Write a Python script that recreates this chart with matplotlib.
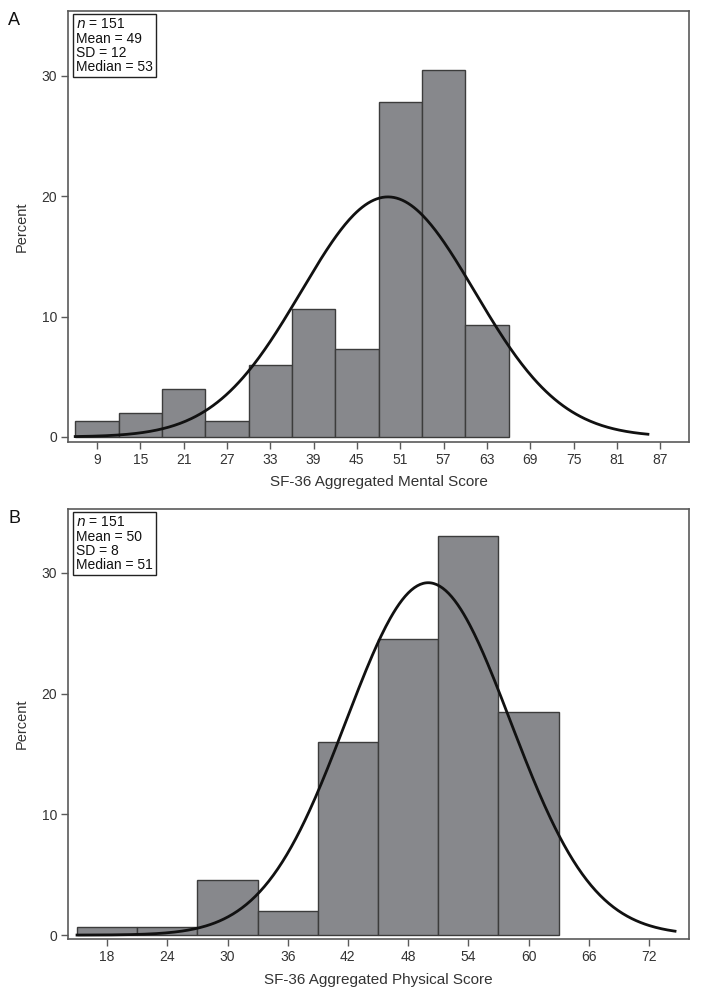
import numpy as np
import matplotlib
matplotlib.use("Agg")
import matplotlib.pyplot as plt

plt.rcParams['font.family'] = ['Liberation Sans', 'DejaVu Sans']

# Panel A: mental score
mental_edges = [6, 12, 18, 24, 30, 36, 42, 48, 54, 60, 66]
mental_pct = [1.3, 2.0, 4.0, 1.3, 6.0, 10.6, 7.3, 27.8, 30.5, 9.3]
mental_ticks = [9, 15, 21, 27, 33, 39, 45, 51, 57, 63, 69, 75, 81, 87]
mental_mean, mental_sd = 49.3, 12.0
mental_stats = ["n = 151", "Mean = 49", "SD = 12", "Median = 53"]

# Panel B: physical score
phys_edges = [15, 21, 27, 33, 39, 45, 51, 57, 63]
phys_pct = [0.66, 0.66, 4.6, 2.0, 16.0, 24.5, 33.1, 18.5]
phys_ticks = [18, 24, 30, 36, 42, 48, 54, 60, 66, 72]
phys_mean, phys_sd = 50.0, 8.2
phys_stats = ["n = 151", "Mean = 50", "SD = 8", "Median = 51"]

y_ticks = [0, 10, 20, 30]

fig = plt.figure(figsize=(7.01, 9.98), dpi=100)

FRAME = '#5a5a5a'
BAR = '#87888c'
EDGE = '#3c3c3c'
TXT = '#333333'


def panel(rect, edges, pct, ticks, mean, sd, stats, xlim, ylim, xlabel, letter):
    ax = fig.add_axes(rect)
    edges = np.array(edges, dtype=float)
    widths = np.diff(edges)
    ax.bar(edges[:-1], pct, width=widths, align='edge', color=BAR,
           edgecolor=EDGE, linewidth=1.0, zorder=2)
    bw = widths[0]
    xs = np.linspace(edges[0], mean + 3 * sd, 400)
    ys = 100 * bw * np.exp(-0.5 * ((xs - mean) / sd) ** 2) / (sd * np.sqrt(2 * np.pi))
    ax.plot(xs, ys, color='#111111', lw=2.0, zorder=3)
    ax.set_xlim(*xlim)
    ax.set_ylim(*ylim)
    ax.set_xticks(ticks)
    ax.set_yticks(y_ticks)
    ax.tick_params(direction='out', length=5, width=1, color=FRAME,
                   labelsize=10, labelcolor=TXT, pad=3)
    for s in ax.spines.values():
        s.set_color(FRAME)
        s.set_linewidth(1.2)
    ax.set_xlabel(xlabel, fontsize=11, color=TXT, labelpad=6)
    ax.set_ylabel('Percent', fontsize=10.5, color=TXT, labelpad=9)
    # stats box
    lines = [r"$\it{n}$ = 151"] + stats[1:]
    ax.text(0.0135, 0.985, "\n".join(lines), transform=ax.transAxes,
            ha='left', va='top', fontsize=10, color='#111111', linespacing=1.02,
            bbox=dict(boxstyle='square,pad=0.22', fc='white', ec='#222222', lw=1.0),
            zorder=5)
    fig.text(0.012, rect[1] + rect[3] - 0.001, letter, fontsize=13, color='#111111',
             ha='left', va='top')
    return ax


panel([0.097, 0.5574, 0.886, 0.4316], mental_edges, mental_pct, mental_ticks,
      mental_mean, mental_sd, mental_stats, (5, 91), (-0.4, 35.4),
      'SF-36 Aggregated Mental Score', 'A')
panel([0.097, 0.0588, 0.886, 0.4312], phys_edges, phys_pct, phys_ticks,
      phys_mean, phys_sd, phys_stats, (14.1, 76), (-0.35, 35.3),
      'SF-36 Aggregated Physical Score', 'B')

fig.savefig('out.png', dpi=100)
